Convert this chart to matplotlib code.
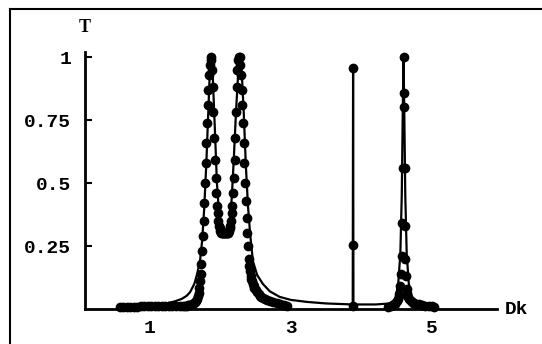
import matplotlib
matplotlib.use("Agg")
import matplotlib.pyplot as plt
from matplotlib.lines import Line2D

# curva continua (T frente a Dk)
dk_line = [0.57, 0.8, 1.0, 1.2, 1.35, 1.45, 1.52, 1.57, 1.63, 1.67, 1.71, 1.74,
           1.77, 1.80, 1.83, 1.85, 1.865, 1.89, 1.92, 1.95, 1.98, 2.01, 2.04,
           2.07, 2.10, 2.13, 2.16, 2.19, 2.22, 2.25, 2.277, 2.30, 2.33, 2.36,
           2.39, 2.42, 2.46, 2.52, 2.60, 2.70, 2.84, 3.0, 3.23, 3.5,
           3.875, 3.88, 3.885, 4.2, 4.4, 4.48, 4.52, 4.55, 4.57, 4.585,
           4.595, 4.605, 4.62, 4.64, 4.67, 4.72, 4.8, 4.95, 5.05]
t_line = [0.012, 0.014, 0.016, 0.02, 0.03, 0.04, 0.052, 0.067, 0.10, 0.14, 0.19,
          0.27, 0.40, 0.58, 0.80, 0.95, 1.0, 0.93, 0.72, 0.50, 0.38, 0.32,
          0.30, 0.30, 0.31, 0.34, 0.44, 0.60, 0.78, 0.93, 1.0, 0.95, 0.78,
          0.57, 0.41, 0.30, 0.19, 0.135, 0.10, 0.07, 0.048, 0.036, 0.028, 0.022,
          0.018, 0.955, 0.018, 0.018, 0.022, 0.04, 0.10, 0.22,
          0.45, 0.80, 1.0, 0.80, 0.45, 0.22, 0.10, 0.045, 0.03, 0.02, 0.012]

# puntos
dk_dots = [0.57, 0.62, 0.67, 0.72, 0.77, 0.82, 0.87, 0.92, 0.97, 1.02, 1.07,
           1.12, 1.17, 1.22, 1.27, 1.32, 1.37, 1.42, 1.47, 1.50, 1.52, 1.54,
           1.56, 1.58, 1.60, 1.62, 1.64,
           1.66, 1.67, 1.68, 1.69, 1.70, 1.71, 1.72, 1.73, 1.74, 1.75, 1.76,
           1.77, 1.78, 1.79, 1.80, 1.81, 1.82, 1.83, 1.84, 1.85, 1.86, 1.87,
           1.88, 1.89, 1.90, 1.91, 1.92, 1.93, 1.94, 1.95, 1.96, 1.97, 1.98,
           1.99, 2.00, 2.01, 2.02, 2.03, 2.04, 2.05, 2.06, 2.07, 2.08, 2.09,
           2.10, 2.11, 2.12, 2.13, 2.14, 2.15, 2.16, 2.17, 2.18, 2.19, 2.20,
           2.21, 2.22, 2.23, 2.24, 2.25, 2.26, 2.27, 2.28, 2.29, 2.30, 2.31,
           2.32, 2.33, 2.34, 2.35, 2.36, 2.37, 2.38, 2.39, 2.40, 2.41, 2.42,
           2.43, 2.44, 2.45, 2.46, 2.47, 2.48,
           2.50, 2.52, 2.54, 2.56, 2.58, 2.60, 2.63, 2.66, 2.70, 2.75, 2.80,
           2.85, 2.90, 2.95,
           3.88, 3.88, 3.88,
           4.38, 4.42, 4.45, 4.48, 4.50, 4.52, 4.535, 4.55, 4.56, 4.57, 4.58,
           4.59, 4.595, 4.60, 4.605, 4.61, 4.615, 4.62, 4.63, 4.64, 4.65, 4.67,
           4.70, 4.73, 4.77, 4.81, 4.85, 4.90, 4.95, 5.00, 5.03]
t_dots = [0.008, 0.008, 0.008, 0.009, 0.009, 0.009, 0.01, 0.01, 0.01, 0.011,
          0.011, 0.011, 0.011, 0.012, 0.012, 0.012, 0.012, 0.012, 0.012, 0.012,
          0.013, 0.014, 0.015, 0.017, 0.019, 0.022, 0.027,
          0.033, 0.04, 0.05, 0.065, 0.085, 0.11, 0.14, 0.18, 0.23, 0.29, 0.35,
          0.42, 0.50, 0.58, 0.66, 0.74, 0.81, 0.87, 0.93, 0.97, 1.0, 0.99,
          0.95, 0.88, 0.78, 0.68, 0.59, 0.52, 0.46, 0.41, 0.38, 0.35, 0.33,
          0.32, 0.31, 0.30, 0.30, 0.30, 0.30, 0.30, 0.30, 0.30, 0.30, 0.30,
          0.30, 0.30, 0.31, 0.32, 0.33, 0.35, 0.38, 0.41, 0.46, 0.52, 0.59,
          0.68, 0.78, 0.88, 0.95, 0.99, 1.0, 1.0, 0.97, 0.93, 0.87, 0.81,
          0.74, 0.66, 0.58, 0.50, 0.43, 0.36, 0.30, 0.25, 0.20, 0.17, 0.15,
          0.13, 0.12, 0.11, 0.10, 0.09, 0.085,
          0.075, 0.068, 0.06, 0.053, 0.048, 0.045, 0.04, 0.036, 0.032, 0.027,
          0.022, 0.018, 0.014, 0.011,
          0.955, 0.255, 0.01,
          0.008, 0.012, 0.016, 0.02, 0.03, 0.04, 0.06, 0.09, 0.14, 0.21,
          0.34, 0.56, 1.0, 0.857, 0.80, 0.56, 0.33, 0.20, 0.13, 0.08, 0.05,
          0.04, 0.03, 0.025, 0.02, 0.018, 0.015, 0.013, 0.012, 0.01, 0.008]

yticks = [0.25, 0.5, 0.75, 1]
ytick_labels = ["0.25", "0.5", "0.75", "1"]
xticks = [1, 3, 5]
xtick_labels = ["1", "3", "5"]

plt.rcParams['font.family'] = ['Liberation Mono', 'DejaVu Sans Mono']
plt.rcParams['font.weight'] = 'bold'

fig = plt.figure(figsize=(5.42, 3.44), dpi=100)
ax = fig.add_axes([85 / 542, 35 / 344, 412 / 542, 257 / 344])

ax.plot(dk_line, t_line, color="black", lw=1.6, solid_joinstyle="round", clip_on=False)
ax.plot(dk_dots, t_dots, "o", color="black", ms=6, clip_on=False)

ax.set_xlim(0.08, 5.92)
ax.set_ylim(0, 1.02)

for s in ["top", "right"]:
    ax.spines[s].set_visible(False)
ax.spines["left"].set_linewidth(2)
ax.spines["bottom"].set_linewidth(2)

ax.set_yticks(yticks)
ax.set_yticklabels(ytick_labels, fontsize=14, fontweight="bold")
ax.set_xticks(xticks)
ax.set_xticklabels(xtick_labels, fontsize=14, fontweight="bold")
ax.tick_params(axis="y", direction="in", length=5, width=1.5, pad=10)
ax.tick_params(axis="x", length=0, pad=8)

fig.text(85 / 542, 1 - 27 / 344, "T", ha="center", va="center", fontsize=13,
         fontweight="bold", family="Liberation Serif")
fig.text(505 / 542, 1 - 309 / 344, "Dk", ha="left", va="center", fontsize=14, fontweight="bold")

# marco del recuadro
fig.add_artist(Line2D([10 / 542, 10 / 542], [0, 1 - 9 / 344], color="black", lw=1.5))
fig.add_artist(Line2D([10 / 542, 1], [1 - 9 / 344, 1 - 9 / 344], color="black", lw=1.5))

plt.savefig("out.png")
